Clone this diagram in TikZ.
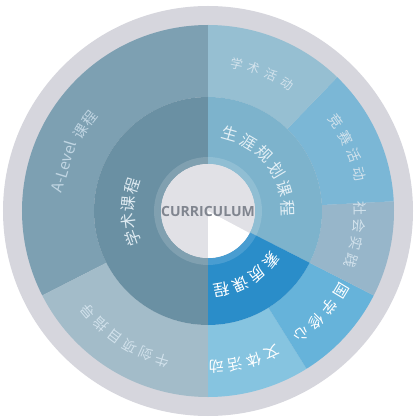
\documentclass[tikz,border=0pt]{standalone}
\usepackage{fontspec}
\setmainfont{Noto Sans CJK SC}
\newfontfamily\curfont{Open Sans}
\usepackage{tikz}
\usetikzlibrary{positioning}
\definecolor{RimGray}{RGB}{214,214,221}
\definecolor{ALevelBlue}{RGB}{125,160,178}
\definecolor{OxbBlue}{RGB}{163,188,201}
\definecolor{SportBlue}{RGB}{134,196,224}
\definecolor{GuoxueBlue}{RGB}{102,179,218}
\definecolor{SocialBlue}{RGB}{151,182,202}
\definecolor{ContestBlue}{RGB}{123,183,214}
\definecolor{ActBlue}{RGB}{150,191,210}
\definecolor{AcadBlue}{RGB}{106,144,163}
\definecolor{CareerBlue}{RGB}{125,179,204}
\definecolor{QualityBlue}{RGB}{42,141,201}
\definecolor{CoreGray}{RGB}{225,225,230}
\definecolor{CoreText}{RGB}{128,133,143}
\definecolor{PaleText}{RGB}{210,226,236}
\definecolor{DimText}{RGB}{192,213,226}
\newcommand{\ringseg}[5]{\fill[#1] (#2:#5) arc[start angle=#2, end angle=#3, radius=#5] -- (#3:#4) arc[start angle=#3, end angle=#2, radius=#4] -- cycle;}
\newcommand{\ringtext}[6]{%
  \foreach \ch [count=\k] in {#6} {
    \pgfmathsetmacro{\ang}{#4-(\k-1)*#5}
    \node[#2, rotate=\ang-90] (#1-\k) at (\ang:#3) {\ch};
  }}
\tikzset{
  inlbl/.style={inner sep=0pt, font=\fontsize{16}{16}\selectfont, text=PaleText},
  outlbl/.style={inner sep=0pt, font=\fontsize{14}{14}\selectfont, text=PaleText},
}

\begin{document}
\begin{tikzpicture}[x=1pt,y=1pt]
        \useasboundingbox (-208,-209) rectangle (212,211);
        \fill[RimGray] (0,0) circle (205);
        \ringseg{ALevelBlue}{90}{207}{114}{186}
        \ringseg{OxbBlue}{207}{270}{114}{186}
        \ringseg{SportBlue}{-90}{-58}{114}{186}
        \ringseg{GuoxueBlue}{-58}{-27}{114}{186}
        \ringseg{SocialBlue}{-27}{3}{114}{186}
        \ringseg{ContestBlue}{3}{46}{114}{186}
        \ringseg{ActBlue}{46}{90}{114}{186}
        \ringseg{AcadBlue}{90}{270}{47}{114}
        \ringseg{CareerBlue}{-27}{90}{47}{114}
        \ringseg{QualityBlue}{-90}{-27}{47}{114}
        \fill[white, opacity=0.15] (0,0) circle (54);
        \fill[CoreGray] (0,0) circle (47);
        \fill[white] (0,0) -- (-90:47) arc[start angle=-90, end angle=-28, radius=47] -- cycle;
        \node[font=\curfont\bfseries\fontsize{14}{14}\selectfont, text=CoreText] (core) at (0,0) {CURRICULUM};
        \ringtext{acad}{inlbl, text={rgb,255:red,222;green,234;blue,241}}{80}{200}{12.6}{学,术,课,程}
        \ringtext{career}{inlbl, text={rgb,255:red,228;green,240;blue,246}}{80}{74}{14.4}{生,涯,规,划,课,程}
        \ringtext{quality}{inlbl, text=white}{80}{-38}{14}{素,质,课,程}
        \ringtext{act}{outlbl, font=\fontsize{12.5}{12.5}\selectfont}{150}{79}{7}{学,术,活,动}
        \ringtext{contest}{outlbl}{156}{35}{7.1}{竞,赛,活,动}
        \ringtext{social}{outlbl}{152}{1}{6.7}{社,会,实,践}
        \ringtext{guoxue}{outlbl, font=\fontsize{15}{15}\selectfont, text=white}{155}{-31}{7.3}{国,学,修,心}
        \ringtext{sport}{outlbl, font=\fontsize{15}{15}\selectfont, text=white}{156}{-65.6}{7.1}{文,体,活,动}
        \ringtext{oxb}{outlbl}{156}{253}{6.6}{牛,剑,项,目,指,导}
        \node[outlbl, font=\fontsize{15.5}{15.5}\selectfont, text=DimText, rotate=73] (alevel) at (163:151) {A-Level};
        \ringtext{alevel}{outlbl, font=\fontsize{14.5}{14.5}\selectfont, text=DimText}{150}{148}{6.2}{课,程}
      \end{tikzpicture}
\end{document}
